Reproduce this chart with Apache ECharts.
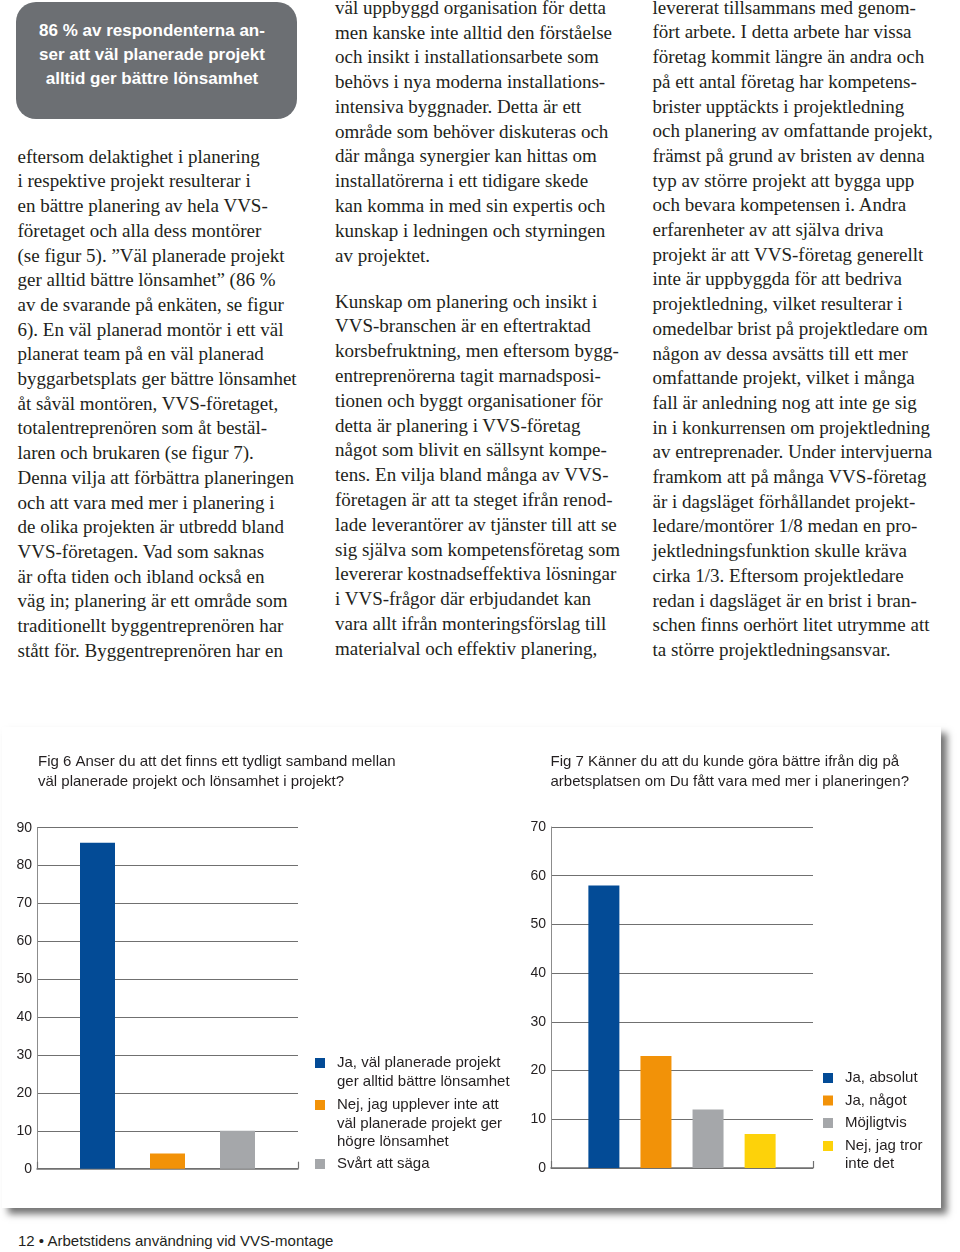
<!DOCTYPE html>
<html>
<head>
<meta charset="utf-8">
<script src="https://cdn.jsdelivr.net/npm/echarts@6/dist/echarts.min.js"></script>
<style>
html,body{margin:0;padding:0;background:#fff;}
#page{position:relative;width:960px;height:1252px;overflow:hidden;background:#fff;}
.col{position:absolute;font-family:"Liberation Serif","Times New Roman",serif;font-size:19px;line-height:24.7px;color:#231f20;white-space:pre;}
#box{position:absolute;left:16px;top:2px;width:281px;height:117px;background:#6c6f73;border-radius:20px;}
#boxtext{position:absolute;left:17px;top:19.2px;width:270px;text-align:center;font-family:"Liberation Sans",Arial,sans-serif;font-weight:bold;font-size:17px;line-height:23.7px;color:#fff;white-space:pre;}
#panel{position:absolute;left:2px;top:727px;width:939px;height:481px;background:#fff;box-shadow:6px 6px 7px rgba(0,0,0,0.55);}
#footer{position:absolute;left:18px;top:1231px;font-family:"Liberation Sans",Arial,sans-serif;font-size:15px;line-height:19px;color:#231f20;white-space:pre;}
#chart{position:absolute;left:0;top:0;width:960px;height:1252px;z-index:2;}
</style>
</head>
<body>
<div id="page">
  <div id="box"></div>
  <div id="boxtext"></div>
  <div id="colLeft" class="col" style="left:17.5px;top:144.7px;"></div>
  <div id="colMidA" class="col" style="left:335px;top:-4.3px;line-height:24.8px;"></div>
  <div id="colMidB" class="col" style="left:335px;top:289.6px;line-height:24.8px;"></div>
  <div id="colRight" class="col" style="left:652.5px;top:-4.3px;"></div>
  <div id="panel"></div>
  <div id="footer"></div>
  <div id="chart"></div>
</div>
<script>
// ---------- Text content ----------
const boxLines = [
  '86 % av respondenterna an-',
  'ser att väl planerade projekt',
  'alltid ger bättre lönsamhet'
];
const leftLines = [
  'eftersom delaktighet i planering',
  'i respektive projekt resulterar i',
  'en bättre planering av hela VVS-',
  'företaget och alla dess montörer',
  '(se figur 5). ”Väl planerade projekt',
  'ger alltid bättre lönsamhet” (86 %',
  'av de svarande på enkäten, se figur',
  '6). En väl planerad montör i ett väl',
  'planerat team på en väl planerad',
  'byggarbetsplats ger bättre lönsamhet',
  'åt såväl montören, VVS-företaget,',
  'totalentreprenören som åt bestäl-',
  'laren och brukaren (se figur 7).',
  'Denna vilja att förbättra planeringen',
  'och att vara med mer i planering i',
  'de olika projekten är utbredd bland',
  'VVS-företagen. Vad som saknas',
  'är ofta tiden och ibland också en',
  'väg in; planering är ett område som',
  'traditionellt byggentreprenören har',
  'stått för. Byggentreprenören har en'
];
const midLinesA = [
  'väl uppbyggd organisation för detta',
  'men kanske inte alltid den förståelse',
  'och insikt i installationsarbete som',
  'behövs i nya moderna installations-',
  'intensiva byggnader. Detta är ett',
  'område som behöver diskuteras och',
  'där många synergier kan hittas om',
  'installatörerna i ett tidigare skede',
  'kan komma in med sin expertis och',
  'kunskap i ledningen och styrningen',
  'av projektet.'
];
const midLinesB = [
  'Kunskap om planering och insikt i',
  'VVS-branschen är en eftertraktad',
  'korsbefruktning, men eftersom bygg-',
  'entreprenörerna tagit marnadsposi-',
  'tionen och byggt organisationer för',
  'detta är planering i VVS-företag',
  'något som blivit en sällsynt kompe-',
  'tens. En vilja bland många av VVS-',
  'företagen är att ta steget ifrån renod-',
  'lade leverantörer av tjänster till att se',
  'sig själva som kompetensföretag som',
  'levererar kostnadseffektiva lösningar',
  'i VVS-frågor där erbjudandet kan',
  'vara allt ifrån monteringsförslag till',
  'materialval och effektiv planering,'
];
const rightLines = [
  'levererat tillsammans med genom-',
  'fört arbete. I detta arbete har vissa',
  'företag kommit längre än andra och',
  'på ett antal företag har kompetens-',
  'brister upptäckts i projektledning',
  'och planering av omfattande projekt,',
  'främst på grund av bristen av denna',
  'typ av större projekt att bygga upp',
  'och bevara kompetensen i. Andra',
  'erfarenheter av att själva driva',
  'projekt är att VVS-företag generellt',
  'inte är uppbyggda för att bedriva',
  'projektledning, vilket resulterar i',
  'omedelbar brist på projektledare om',
  'någon av dessa avsätts till ett mer',
  'omfattande projekt, vilket i många',
  'fall är anledning nog att inte ge sig',
  'in i konkurrensen om projektledning',
  'av entreprenader. Under intervjuerna',
  'framkom att på många VVS-företag',
  'är i dagsläget förhållandet projekt-',
  'ledare/montörer 1/8 medan en pro-',
  'jektledningsfunktion skulle kräva',
  'cirka 1/3. Eftersom projektledare',
  'redan i dagsläget är en brist i bran-',
  'schen finns oerhört litet utrymme att',
  'ta större projektledningsansvar.'
];
const footerText = '12 • Arbetstidens användning vid VVS-montage';

document.getElementById('boxtext').textContent = boxLines.join('\n');
document.getElementById('colLeft').textContent = leftLines.join('\n');
document.getElementById('colMidA').textContent = midLinesA.join('\n');
document.getElementById('colMidB').textContent = midLinesB.join('\n');
document.getElementById('colRight').textContent = rightLines.join('\n');
document.getElementById('footer').textContent = footerText;

// ---------- Chart data ----------
const fig6Title = 'Fig 6 Anser du att det finns ett tydligt samband mellan\nväl planerade projekt och lönsamhet i projekt?';
const fig6Names = [
  'Ja, väl planerade projekt\nger alltid bättre lönsamhet',
  'Nej, jag upplever inte att\nväl planerade projekt ger\nhögre lönsamhet',
  'Svårt att säga'
];
const fig6Values = [86, 4, 10];
const fig6AxisMin = 0, fig6AxisMax = 90, fig6AxisStep = 10;

const fig7Title = 'Fig 7 Känner du att du kunde göra bättre ifrån dig på\narbetsplatsen om Du fått vara med mer i planeringen?';
const fig7Names = ['Ja, absolut', 'Ja, något', 'Möjligtvis', 'Nej, jag tror\ninte det'];
const fig7Values = [58, 23, 12, 7];
const fig7AxisMin = 0, fig7AxisMax = 70, fig7AxisStep = 10;

const palette = ['#034b96', '#f29208', '#a5a7aa', '#fdd20a'];

// ---------- Build option ----------
const FONT = '"Liberation Sans", Arial, sans-serif';
const TXT = '#231f20';
const GRIDC = '#707070';

// One legend component per entry so that multi-line entries keep the
// square aligned with their first line (blank lines are prepended so the
// first text line sits at the vertical centre of the block).
function makeLegends(names, left, iconCenters, lh) {
  return names.map((name, i) => {
    const n = name.split('\n').length;
    const top = iconCenters[i] - (2 * n - 1) * lh / 2;
    return {
      data: [{ name: name, icon: 'rect' }],
      orient: 'vertical',
      left: left,
      top: top,
      padding: 0,
      itemWidth: 10,
      itemHeight: 10,
      selectedMode: false,
      formatter: function (nm) { return '\n'.repeat(n - 1) + nm; },
      textStyle: {
        fontFamily: FONT, fontSize: 15, color: TXT,
        lineHeight: lh,
        padding: [0, 0, 0, 7]
      }
    };
  });
}

function axisPair(gridIndex, min, max, step) {
  const x = {
    type: 'category', gridIndex: gridIndex, data: [''], boundaryGap: true,
    axisLine: { show: true, lineStyle: { color: GRIDC, width: 1.5 } },
    axisTick: { show: true, inside: true, length: 7, lineStyle: { color: GRIDC, width: 1.2 } },
    axisLabel: { show: false }, splitLine: { show: false }
  };
  const y = {
    type: 'value', gridIndex: gridIndex, min: min, max: max, interval: step,
    axisLine: { show: true, lineStyle: { color: '#8c8c8c', width: 1 } },
    axisTick: { show: false },
    axisLabel: { fontFamily: FONT, fontSize: 14, color: TXT, margin: 5 },
    splitLine: { show: true, lineStyle: { color: GRIDC, width: 1.2 } }
  };
  return [x, y];
}

const [x6, y6] = axisPair(0, fig6AxisMin, fig6AxisMax, fig6AxisStep);
const [x7, y7] = axisPair(1, fig7AxisMin, fig7AxisMax, fig7AxisStep);

const series6 = fig6Names.map((name, i) => ({
  type: 'bar', name: name, xAxisIndex: 0, yAxisIndex: 0,
  data: [fig6Values[i]], barWidth: 35, barGap: '100%',
  itemStyle: { color: palette[i] }, emphasis: { disabled: true }, animation: false
}));
const series7 = fig7Names.map((name, i) => ({
  type: 'bar', name: name, xAxisIndex: 1, yAxisIndex: 1,
  data: [fig7Values[i]], barWidth: 31, barGap: '68%',
  itemStyle: { color: palette[i] }, emphasis: { disabled: true }, animation: false
}));

const titleStyle = { fontFamily: FONT, fontSize: 15, fontWeight: 'normal', color: TXT, lineHeight: 20.6 };

const option = {
  animation: false,
  backgroundColor: 'transparent',
  title: [
    { text: fig6Title, left: 38, top: 751.4, padding: 0, textStyle: titleStyle },
    { text: fig7Title, left: 550.5, top: 751.4, padding: 0, textStyle: titleStyle }
  ],
  grid: [
    { left: 37, top: 827.7, width: 261, height: 341, containLabel: false },
    { left: 551, top: 827, width: 262, height: 341, containLabel: false }
  ],
  xAxis: [x6, x7],
  yAxis: [y6, y7],
  legend: [].concat(
    makeLegends(fig6Names, 315, [1063, 1105, 1164], 18.5),
    makeLegends(fig7Names, 823, [1078, 1100.5, 1123, 1146], 18)
  ),
  series: series6.concat(series7)
};

const chart = echarts.init(document.getElementById('chart'), null, { renderer: 'canvas', width: 960, height: 1252 });
chart.setOption(option);
</script>
</body>
</html>
